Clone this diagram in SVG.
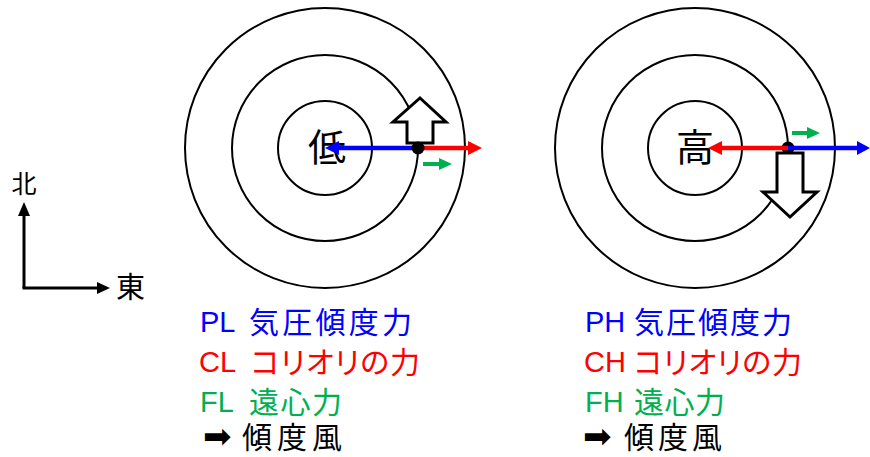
<svg xmlns="http://www.w3.org/2000/svg" width="870" height="457" viewBox="0 0 870 457">
<style>
.ring{fill:none;stroke:#000;stroke-width:2}
.lat{font-family:"Liberation Sans",Arial,sans-serif;font-size:29px}
.cjk{font-family:"Noto Sans CJK JP","Noto Sans CJK SC",sans-serif;font-size:30px;font-feature-settings:"palt"}
.big{font-family:"Noto Sans CJK JP","Noto Sans CJK SC",sans-serif;font-size:38px;text-anchor:middle}
.blue{fill:#0000FF}.red{fill:#FF0000}.green{fill:#00B050}.blk{fill:#000}
.lb{stroke:#0000FF;stroke-width:4.5}.lr{stroke:#FF0000;stroke-width:4.5}.lg{stroke:#00B050;stroke-width:4}.lk{stroke:#000;stroke-width:3}
.hollow{fill:#fff;stroke:#000;stroke-width:3;stroke-linejoin:miter}
.arr{font-family:"DejaVu Sans",sans-serif;font-size:34px}
</style>
<rect width="870" height="457" fill="#fff"/>
<g id="low">
<circle class="ring" cx="325" cy="148" r="140"/>
<circle class="ring" cx="325" cy="148" r="93"/>
<circle class="ring" cx="325" cy="148" r="47"/>
<text class="big" x="327" y="161">低</text>
</g>
<g id="high">
<circle class="ring" cx="695" cy="148" r="140"/>
<circle class="ring" cx="695" cy="148" r="93"/>
<circle class="ring" cx="695" cy="148" r="47"/>
<text class="big" x="695" y="161">高</text>
</g>
<g id="connectors">
<polygon class="hollow" points="420,98 446,122 433,122 433,143 407,143 407,122 393,122"/>
<line class="lb" x1="418" y1="148" x2="337" y2="148"/>
<polygon class="blue" points="325,148 339,141 339,155"/>
<line class="lr" x1="418" y1="148" x2="470" y2="148"/>
<polygon class="red" points="482,148 468,141 468,155"/>
<line class="lg" x1="423" y1="164" x2="441" y2="164"/>
<polygon class="green" points="452,164 439,158 439,170"/>
<circle class="blk" cx="418" cy="148" r="6.5"/>
<circle class="blk" cx="788" cy="148" r="6.5"/>
<line class="lr" x1="788" y1="148" x2="720" y2="148"/>
<polygon class="red" points="708,148 722,141 722,155"/>
<line class="lb" x1="788" y1="148" x2="859" y2="148"/>
<polygon class="blue" points="870,148 857,141 857,155"/>
<line class="lg" x1="792" y1="133" x2="809" y2="133"/>
<polygon class="green" points="820,133 807,127 807,139"/>
<polygon class="hollow" points="777,153 803,153 803,192 817,192 790,217 763,192 777,192"/>
<line class="lk" x1="24" y1="288" x2="24" y2="212"/>
<polygon class="blk" points="24,202 18,216 30,216"/>
<line class="lk" x1="22.5" y1="288" x2="100" y2="288"/>
<polygon class="blk" points="110,288 97,282 97,294"/>
</g>
<g id="compass-labels">
<text class="cjk" x="24" y="193" style="font-size:25px;text-anchor:middle">北</text>
<text class="cjk" x="116" y="298" style="font-size:29px">東</text>
</g>
<g id="legend-low">
<text class="lat blue" x="200" y="332">PL</text>
<text class="cjk blue" x="249" y="333" textLength="163" lengthAdjust="spacing">気圧傾度力</text>
<text class="lat red" x="199" y="372">CL</text>
<text class="cjk red" x="251" y="373" textLength="169" lengthAdjust="spacing">コリオリの力</text>
<text class="lat green" x="200" y="412">FL</text>
<text class="cjk green" x="249" y="413" textLength="93" lengthAdjust="spacing">遠心力</text>
<text class="arr" x="203" y="448">➡</text>
<text class="cjk" x="242" y="448" textLength="100" lengthAdjust="spacing">傾度風</text>
</g>
<g id="legend-high">
<text class="lat blue" x="585" y="332">PH</text>
<text class="cjk blue" x="634" y="333" textLength="158" lengthAdjust="spacing">気圧傾度力</text>
<text class="lat red" x="584" y="372">CH</text>
<text class="cjk red" x="634" y="373" textLength="168" lengthAdjust="spacing">コリオリの力</text>
<text class="lat green" x="585" y="412">FH</text>
<text class="cjk green" x="634" y="413" textLength="91" lengthAdjust="spacing">遠心力</text>
<text class="arr" x="583" y="448">➡</text>
<text class="cjk" x="624" y="448" textLength="98" lengthAdjust="spacing">傾度風</text>
</g>
</svg>
